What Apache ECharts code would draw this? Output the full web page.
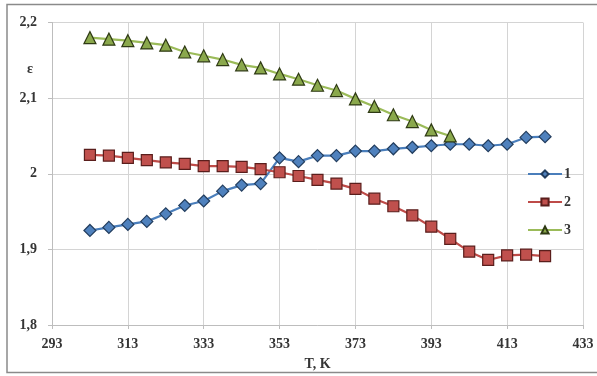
<!DOCTYPE html>
<html>
<head>
<meta charset="utf-8">
<script src="https://cdn.jsdelivr.net/npm/echarts@6/dist/echarts.min.js"></script>
<style>
  html, body { margin: 0; padding: 0; background: #fff; }
  #chart { width: 597px; height: 376px; }
</style>
</head>
<body>
<div id="chart"></div>
<script>
// Temperature, K
const temps = [303, 308, 313, 318, 323, 328, 333, 338, 343, 348, 353, 358, 363,
               368, 373, 378, 383, 388, 393, 398, 403, 408, 413, 418, 423];
// Permittivity ε for samples 1, 2, 3
const eps1 = [1.925, 1.929, 1.933, 1.937, 1.947, 1.958, 1.964, 1.977, 1.985, 1.987,
              2.021, 2.016, 2.024, 2.024, 2.030, 2.030, 2.033, 2.035, 2.037, 2.039,
              2.039, 2.037, 2.039, 2.048, 2.049];
const eps2 = [2.025, 2.024, 2.021, 2.018, 2.015, 2.013, 2.010, 2.010, 2.009, 2.006,
              2.002, 1.997, 1.992, 1.987, 1.980, 1.967, 1.957, 1.945, 1.930, 1.914,
              1.897, 1.886, 1.892, 1.893, 1.891];
const eps3 = [2.180, 2.178, 2.176, 2.173, 2.170, 2.161, 2.156, 2.151, 2.144, 2.140,
              2.132, 2.125, 2.117, 2.110, 2.099, 2.089, 2.078, 2.069, 2.058, 2.050];
const seriesNames = ['1', '2', '3'];
const xTicks = [293, 313, 333, 353, 373, 393, 413, 433];
const yTicks = [1.8, 1.9, 2.0, 2.1, 2.2];

// x axis runs from the first tick; values are plotted relative to it
const T0 = xTicks[0];
const toPairs = (vals) => vals.map((v, i) => [temps[i] - T0, v]);

const font = { fontFamily: 'Liberation Serif', fontWeight: 'bold', fontSize: 14, color: '#353535' };
const gridColor = '#d4d4d4';

const chart = echarts.init(document.getElementById('chart'), null, { renderer: 'canvas' });
chart.setOption({
  backgroundColor: '#fff',
  animation: false,
  grid: { left: 52, right: 14, top: 22.5, bottom: 50.5 },
  xAxis: {
    type: 'value',
    min: 0,
    max: xTicks[xTicks.length - 1] - T0,
    interval: xTicks[1] - xTicks[0],
    name: 'T, K',
    nameLocation: 'middle',
    nameGap: 32,
    nameTextStyle: font,
    axisLine: { show: true, lineStyle: { color: '#bdbdbd' } },
    axisTick: { show: true, length: 4, lineStyle: { color: '#bdbdbd' } },
    axisLabel: { ...font, margin: 12, formatter: (v) => String(v + T0) },
    splitLine: { show: true, lineStyle: { color: gridColor } }
  },
  yAxis: {
    type: 'value',
    min: yTicks[0],
    max: yTicks[yTicks.length - 1],
    interval: 0.1,
    axisLine: { show: true, lineStyle: { color: '#bdbdbd' } },
    axisTick: { show: true, length: 4, lineStyle: { color: '#bdbdbd' } },
    axisLabel: { ...font, margin: 15, formatter: (v) => String(Math.round(v * 10) / 10).replace('.', ',') },
    splitLine: { show: true, lineStyle: { color: gridColor } }
  },
  legend: {
    orient: 'vertical',
    left: 522,
    top: 162,
    itemWidth: 34,
    itemHeight: 9,
    itemGap: 14,
    textStyle: { ...font, padding: [0, 0, 0, -3] },
    data: seriesNames
  },
  series: [
    {
      name: seriesNames[0], type: 'line', data: toPairs(eps1),
      symbol: 'diamond', symbolSize: 12,
      lineStyle: { color: '#4a7ebb', width: 2.2 },
      itemStyle: { color: '#4f81bd', borderColor: '#223d5e', borderWidth: 1.2 }
    },
    {
      name: seriesNames[1], type: 'line', data: toPairs(eps2),
      symbol: 'rect', symbolSize: 11,
      lineStyle: { color: '#be4b48', width: 2.2 },
      itemStyle: { color: '#c0504d', borderColor: '#5a1e1c', borderWidth: 1.2 }
    },
    {
      name: seriesNames[2], type: 'line', data: toPairs(eps3),
      symbol: 'triangle', symbolSize: 12,
      lineStyle: { color: '#9bbb59', width: 2.2 },
      itemStyle: { color: '#8aa84c', borderColor: '#2f3a14', borderWidth: 1.2 }
    }
  ],
  graphic: [
    {
      type: 'rect', silent: true, z: -1,
      shape: { x: 7, y: 4.5, width: 600, height: 368 },
      style: { fill: null, stroke: '#8a8a8a', lineWidth: 1.5 }
    },
    {
      type: 'text', left: 27, top: 62,
      style: { text: 'ε', font: 'bold 14px "Liberation Serif"', fill: '#353535' }
    }
  ]
});
</script>
</body>
</html>
